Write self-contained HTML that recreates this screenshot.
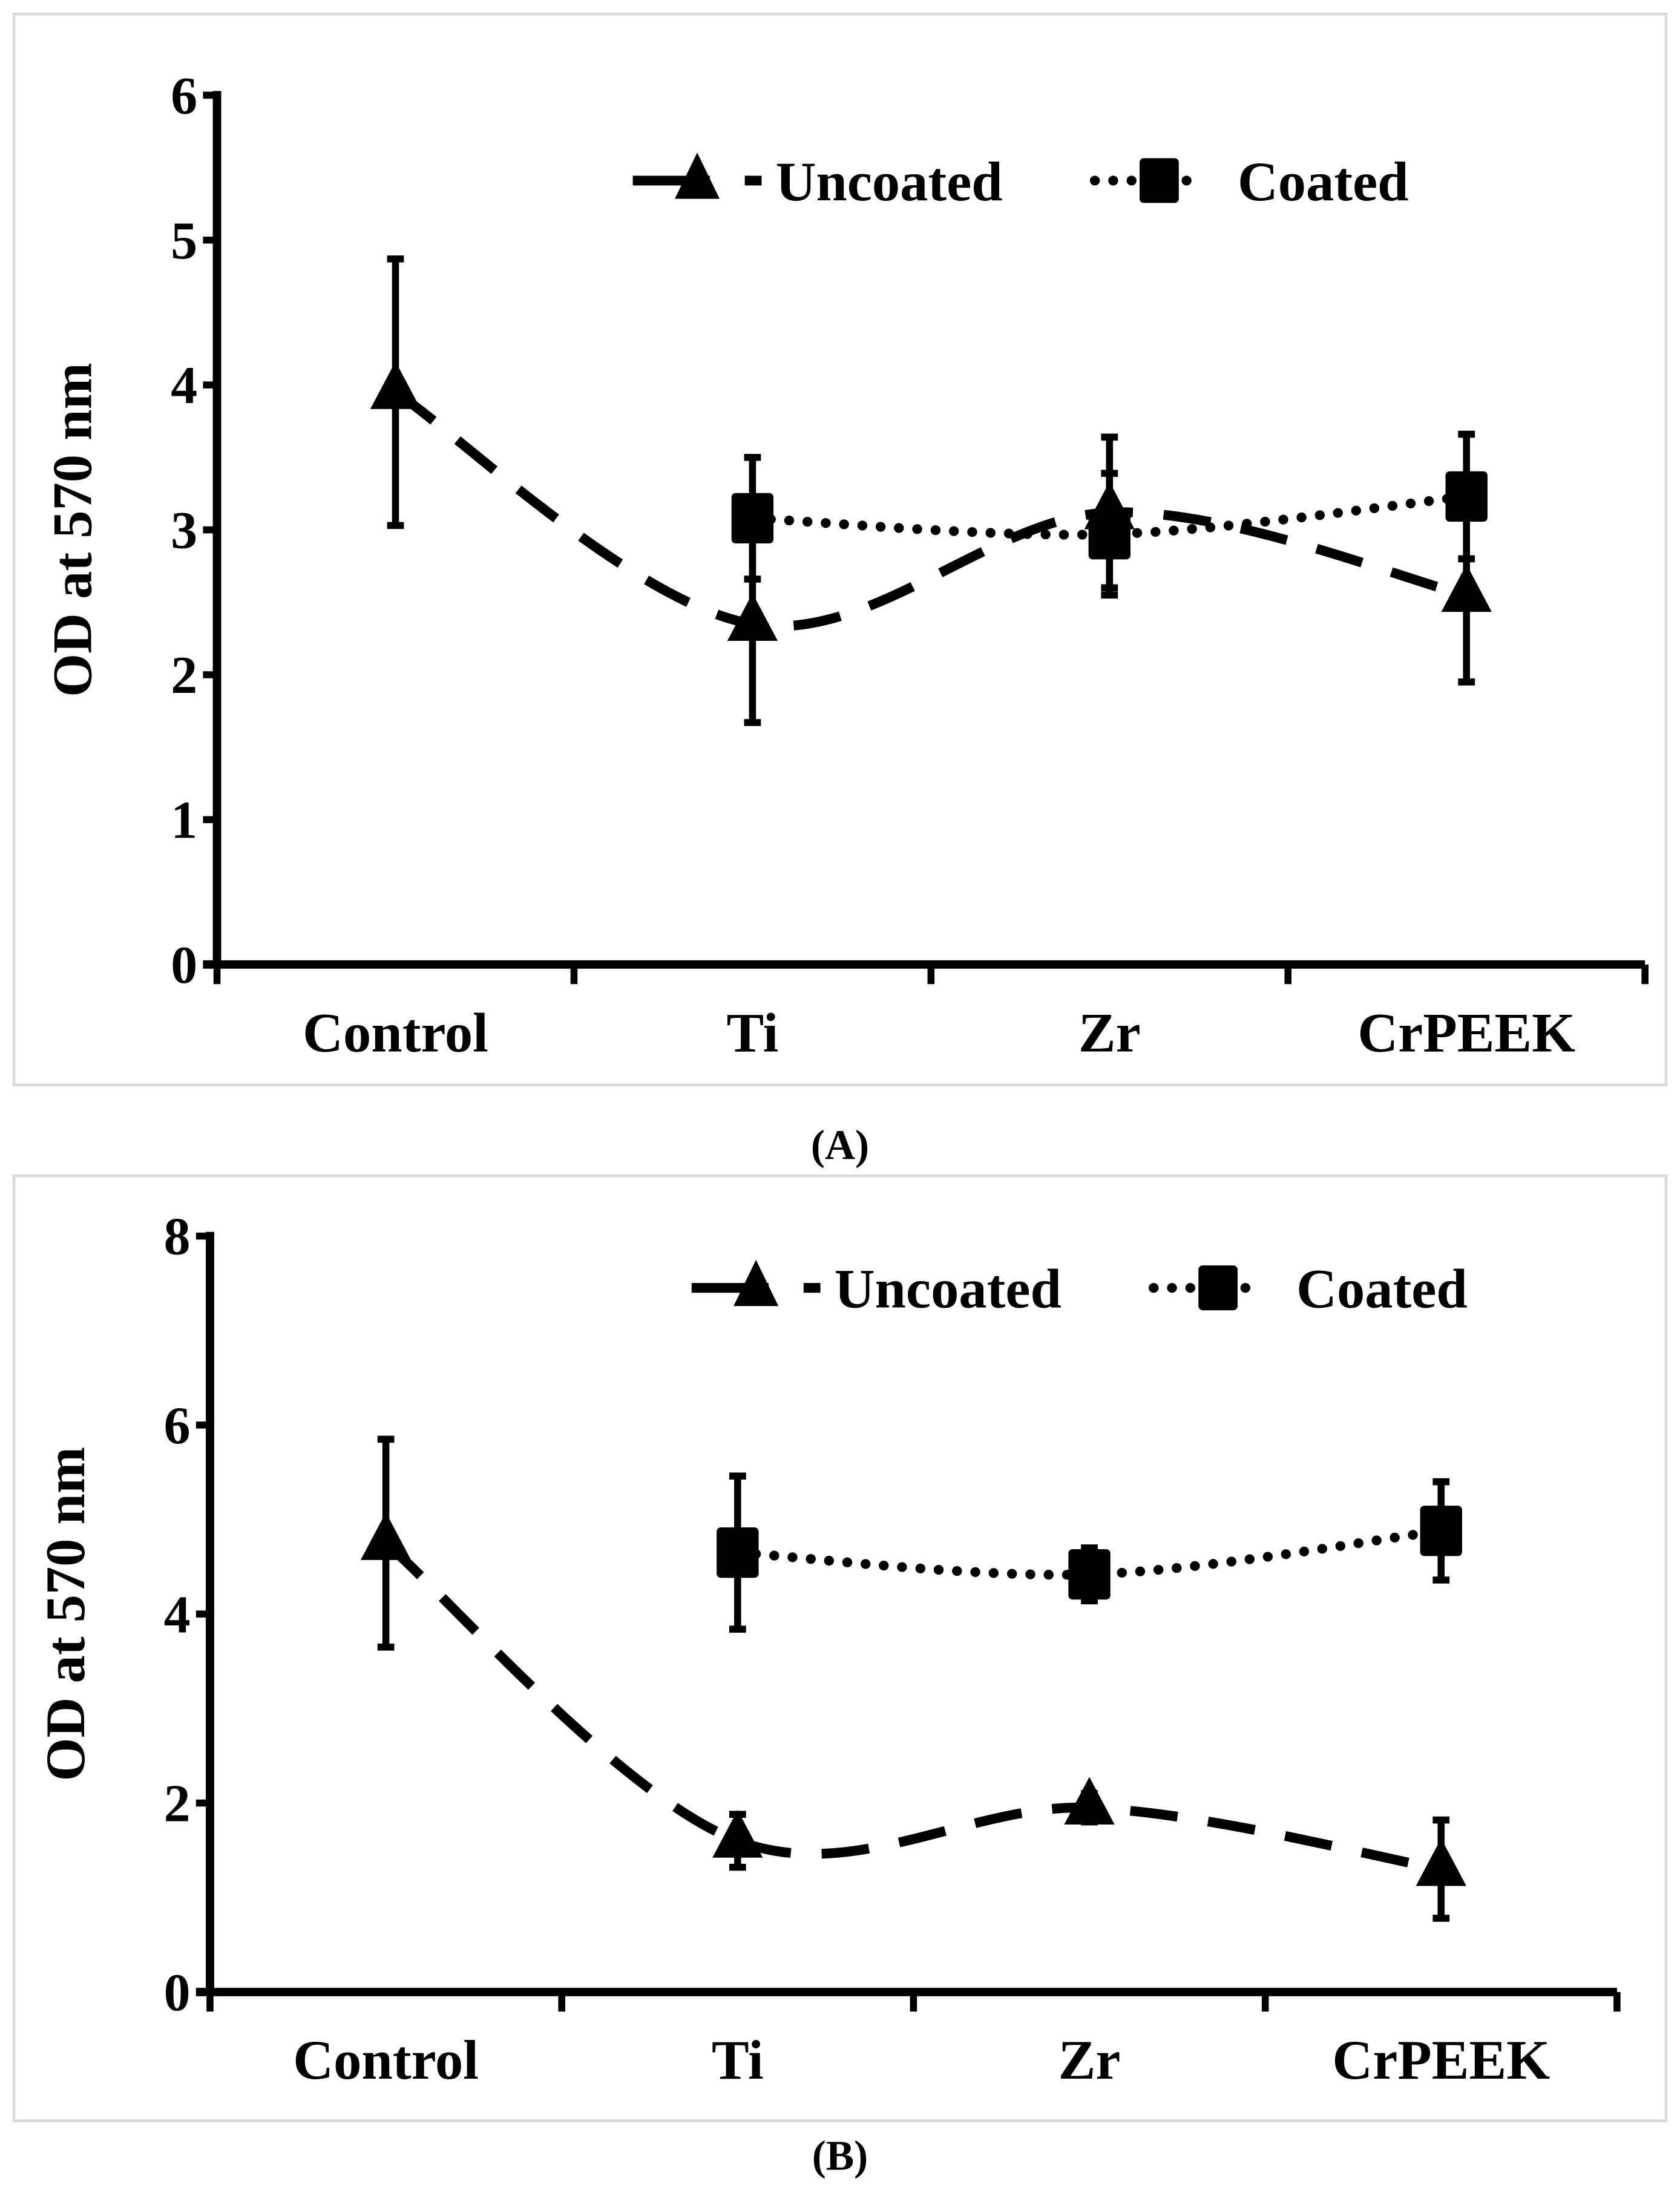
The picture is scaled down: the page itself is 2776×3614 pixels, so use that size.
<!DOCTYPE html>
<html><head><meta charset="utf-8"><style>
html,body{margin:0;padding:0;background:#fff;}
svg{display:block;}
text{font-family:"Liberation Serif",serif;font-weight:bold;fill:#000;}
</style></head><body>
<svg id="svg" width="2776" height="3614" viewBox="0 0 1200 1562.3" preserveAspectRatio="none" xmlns="http://www.w3.org/2000/svg">
<rect x="10" y="10" width="1180" height="765" fill="#fff" stroke="#d9d9d9" stroke-width="2"/>
<rect x="10" y="840" width="1180" height="675" fill="#fff" stroke="#d9d9d9" stroke-width="2"/>
<text x="600" y="828" font-size="30" text-anchor="middle">(A)</text>
<text x="600" y="1550" font-size="30" text-anchor="middle">(B)</text>
<g id="chartA"></g>
<g id="chartB"></g>
</svg>
<script>
const categories = ["Control","Ti","Zr","CrPEEK"];
// Panel A
const aUncoated = [3.95, 2.35, 3.12, 2.55];
const aUncoatedErr = [0.92, 0.68, 0.52, 0.6];
const aCoated = [null, 3.08, 2.97, 3.23];
const aCoatedErr = [null, 0.42, 0.42, 0.43];
const aTicks = [0,1,2,3,4,5,6];
// Panel B
const bUncoated = [4.75, 1.6, 1.95, 1.3];
const bUncoatedErr = [1.1, 0.28, 0.15, 0.52];
const bCoated = [null, 4.65, 4.42, 4.88];
const bCoatedErr = [null, 0.81, 0.28, 0.52];
const bTicks = [0,2,4,6,8];

const NS="http://www.w3.org/2000/svg";
function mk(parent,tag,attrs){const e=document.createElementNS(NS,tag);for(const k in attrs)e.setAttribute(k,attrs[k]);parent.appendChild(e);return e;}
function spline(pts){
  let d=`M${pts[0][0]},${pts[0][1]}`;
  for(let i=0;i<pts.length-1;i++){
    const p0=pts[i-1]||pts[i],p1=pts[i],p2=pts[i+1],p3=pts[i+2]||p2,t=0.5/3*1.0;
    const c1=[p1[0]+(p2[0]-p0[0])*t,p1[1]+(p2[1]-p0[1])*t];
    const c2=[p2[0]-(p3[0]-p1[0])*t,p2[1]-(p3[1]-p1[1])*t];
    d+=` C${c1[0]},${c1[1]} ${c2[0]},${c2[1]} ${p2[0]},${p2[1]}`;
  }
  return d;
}
function draw(g,cfg){
  const y=v=>cfg.y0-(v-0)*(cfg.y0-cfg.yTop)/cfg.ymax;
  const step=(cfg.xR-cfg.xL)/categories.length;
  const x=i=>cfg.xL+step*(i+0.5);
  const ya=mk(g,'line',{x1:cfg.xL,y1:cfg.yTop-3,x2:cfg.xL,y2:cfg.y0+3,stroke:'#000','stroke-width':6});
  
  
  const xa=mk(g,'line',{x1:cfg.xL-10,y1:cfg.y0,x2:cfg.xR,y2:cfg.y0,stroke:'#000','stroke-width':6});
  
  
  cfg.ticks.forEach(t=>{
    const tk=mk(g,'line',{x1:cfg.xL-10,y1:y(t),x2:cfg.xL,y2:y(t),stroke:'#000','stroke-width':5});
    
    
    const tl=mk(g,'text',{x:cfg.xL-14,y:y(t)+13,'font-size':38,'text-anchor':'end'});
    tl.textContent=t;
    
    
  });
  for(let i=0;i<=categories.length;i++){
    const tk=mk(g,'line',{x1:cfg.xL+step*i,y1:cfg.y0,x2:cfg.xL+step*i,y2:cfg.y0+14,stroke:'#000','stroke-width':5});
    
    
  }
  categories.forEach((c,i)=>{
    const tl=mk(g,'text',{x:x(i),y:cfg.y0+62,'font-size':40,'text-anchor':'middle'});
    tl.textContent=c;
    
    
  });
  const yt=mk(g,'text',{x:0,y:0,'font-size':40,'text-anchor':'middle',transform:`translate(${cfg.xL-90},${(cfg.y0+cfg.yTop)/2}) rotate(-90)`});
  yt.textContent='OD at 570 nm';
  
  
  const up=cfg.unc.map((v,i)=>[x(i),y(v)]);
  const ul=mk(g,'path',{d:spline(up),fill:'none',stroke:'#000','stroke-width':7,'stroke-dasharray':'34 22'});
  
  
  const cp=[];cfg.coa.forEach((v,i)=>{if(v!==null)cp.push([x(i),y(v)]);});
  const cl=mk(g,'path',{d:spline(cp),fill:'none',stroke:'#000','stroke-width':7,'stroke-dasharray':'0.1 13','stroke-linecap':'round'});
  
  
  function err(i,v,e,name){
    const eg=mk(g,'g',{});
    
    
    mk(eg,'line',{x1:x(i),y1:y(v-e),x2:x(i),y2:y(v+e),stroke:'#000','stroke-width':5});
    mk(eg,'line',{x1:x(i)-6,y1:y(v-e),x2:x(i)+6,y2:y(v-e),stroke:'#000','stroke-width':5});
    mk(eg,'line',{x1:x(i)-6,y1:y(v+e),x2:x(i)+6,y2:y(v+e),stroke:'#000','stroke-width':5});
  }
  cfg.unc.forEach((v,i)=>err(i,v,cfg.uncE[i],'uncoated-error-bar'));
  cfg.coa.forEach((v,i)=>{if(v!==null)err(i,v,cfg.coaE[i],'coated-error-bar');});
  cfg.unc.forEach((v,i)=>{
    const px=x(i),py=y(v);
    const m=mk(g,'polygon',{points:`${px},${py-22} ${px-18},${py+12} ${px+18},${py+12}`,fill:'#000'});
    
    
  });
  cfg.coa.forEach((v,i)=>{
    if(v===null)return;
    const m=mk(g,'rect',{x:x(i)-15,y:y(v)-18,width:30,height:36,fill:'#000',rx:3});
    
    
  });
  const lg=mk(g,'g',{});
  
  
  const L=cfg.leg;
  mk(lg,'line',{x1:L.x,y1:L.y,x2:L.x+55,y2:L.y,stroke:'#000','stroke-width':7});
  mk(lg,'line',{x1:L.x+80,y1:L.y,x2:L.x+92,y2:L.y,stroke:'#000','stroke-width':7});
  mk(lg,'polygon',{points:`${L.x+46},${L.y-20} ${L.x+30},${L.y+13} ${L.x+62},${L.y+13}`,fill:'#000'});
  const t1=mk(lg,'text',{x:L.x+102,y:L.y+14,'font-size':40});t1.textContent='Uncoated';
  mk(lg,'line',{x1:L.x+330,y1:L.y,x2:L.x+405,y2:L.y,stroke:'#000','stroke-width':7,'stroke-dasharray':'0.1 13','stroke-linecap':'round'});
  mk(lg,'rect',{x:L.x+362,y:L.y-16,width:28,height:32,fill:'#000',rx:3});
  const t2=mk(lg,'text',{x:L.x+432,y:L.y+14,'font-size':40});t2.textContent='Coated';
}
draw(document.getElementById('chartA'),{xL:155,xR:1175,y0:689,yTop:68,ymax:6,ticks:aTicks,unc:aUncoated,uncE:aUncoatedErr,coa:aCoated,coaE:aCoatedErr,leg:{x:452,y:129}});
draw(document.getElementById('chartB'),{xL:150,xR:1155,y0:1423,yTop:883,ymax:8,ticks:bTicks,unc:bUncoated,uncE:bUncoatedErr,coa:bCoated,coaE:bCoatedErr,leg:{x:494,y:920}});
</script>
</body></html>
